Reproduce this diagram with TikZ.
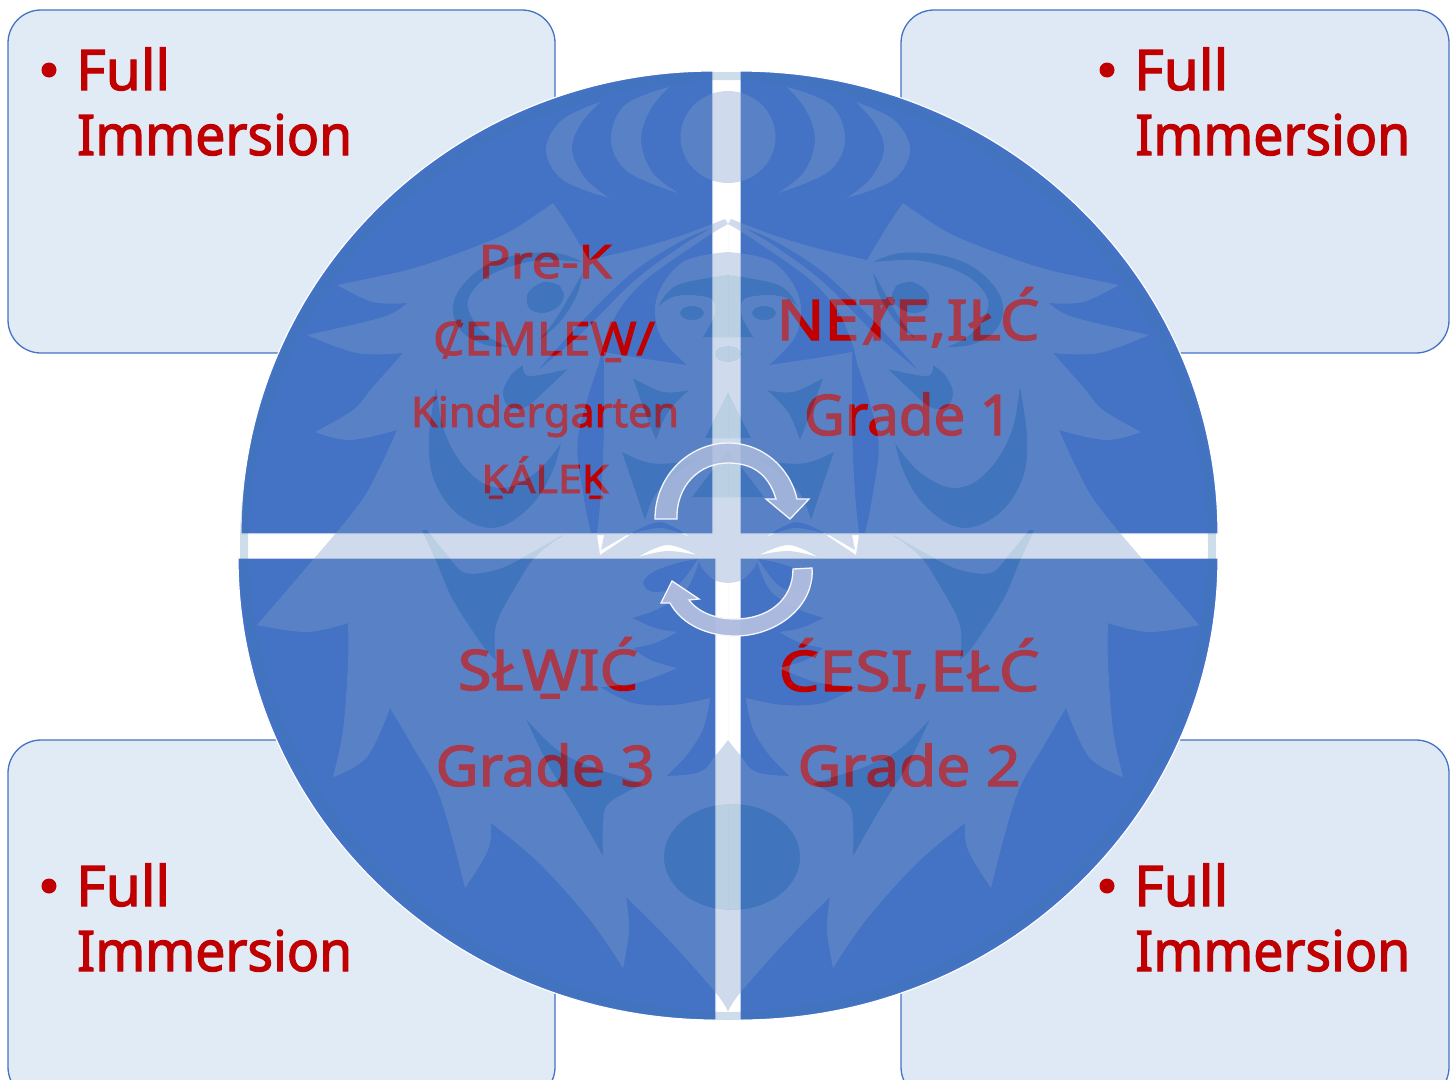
\documentclass[tikz,border=0pt]{standalone}
\usepackage{graphicx}
\usepackage{fontspec}
\setmainfont[RawFeature={embolden=2.2}]{Noto Sans}
\definecolor{qblue}{RGB}{68,114,196}
\definecolor{boxL}{RGB}{225,235,246}
\definecolor{boxR}{RGB}{222,233,245}
\definecolor{tred}{RGB}{192,0,0}
\definecolor{wmlight}{RGB}{127,160,204}
\definecolor{wmdark}{RGB}{58,120,173}
\definecolor{arrU}{RGB}{172,188,222}
\definecolor{arrD}{RGB}{176,188,223}
\tikzset{
  panel/.style={draw=qblue,line width=1.3pt,rounded corners=33pt},
  quad/.style={fill=qblue,draw=white,line width=1.2pt},
  lbl/.style={anchor=base west,inner sep=0pt,text=tred,font=\fontsize{56}{56}\selectfont},
  qtxt/.style={anchor=base,inner sep=0pt,text=tred},
  arrowshape/.style={draw=white!88!arrU,line width=1.3pt,line join=miter}
}
\newcommand\fitw[3]{\resizebox{#1pt}{\height}{\fontsize{#2}{#2}\selectfont #3}}
\newcommand\sm[1]{-- plot[smooth,tension=.6] coordinates {#1}}
% left half of the crest outline
\newcommand\SilL{(728,224) -- (725,219)
 \sm{(725,219)(683,235)(640,248)(589,260)}
 \sm{(589,260)(577,240)(566,222)(553,203)}
 \sm{(553,203)(507,233)(453,255)(407,270)(337,285)}
 \sm{(337,285)(373,302)(407,303)}
 \sm{(407,303)(383,317)(307,335)}
 \sm{(307,335)(357,353)(403,353)}
 \sm{(403,353)(373,387)(353,410)(315,432)}
 \sm{(315,432)(350,440)(397,430)}
 \sm{(397,430)(380,467)(357,507)(300,575)(257,625)}
 \sm{(257,625)(307,632)(348,623)}
 \sm{(348,623)(348,663)(343,730)(333,777)}
 \sm{(333,777)(367,757)(390,708)}
 \sm{(390,708)(413,747)(440,797)(465,888)}
 \sm{(465,888)(488,850)(491,823)}
 \sm{(491,823)(539,863)(590,920)(623,968)}
 \sm{(623,968)(629,930)(626,897)}
 \sm{(626,897)(669,940)(716,993)(728,1012)}
 -- cycle}
% plain parts of the crest (nothing laid over the base)
\newcommand\HolesL{
 (728,224) -- (714,232) \sm{(714,232)(649,277)(619,310)(604,343)(599,363)}
 \sm{(599,363)(578,437)(583,493)(591,533)}
 -- (597,533) \sm{(597,533)(601,493)(604,427)(604,352)}
 \sm{(604,352)(639,358)(687,365)}
 \sm{(687,365)(660,335)(657,297)(683,262)(728,252)} -- cycle
 (712,228) \sm{(712,228)(683,240)(633,272)(583,320)(537,371)}
 \sm{(537,371)(583,332)(633,282)(683,245)(712,228)} -- cycle
 (597,535) -- (600,555) -- (630,535) -- (627,535) -- (601,550) -- (604,535) -- cycle
 (628,535) \sm{(628,535)(660,522)(690,537)}
 \sm{(690,537)(660,528)(628,535)} -- cycle
 (638,557) \sm{(638,557)(667,545)(697,555)}
 \sm{(697,555)(667,551)(638,557)} -- cycle
 (698,559) \sm{(698,559)(677,563)(653,572)(643,583)(653,592)(677,586)(698,559)} -- cycle
 (728,583) \sm{(728,583)(714,580)(702,568)(699,561)}
 \sm{(699,561)(686,590)(660,608)(632,618)}
 \sm{(632,618)(655,628)(677,632)}
 \sm{(677,632)(655,643)(633,648)}
 \sm{(633,648)(650,660)(677,668)}
 \sm{(677,668)(640,682)(600,687)}
 \sm{(600,687)(633,703)(673,705)(710,698)}
 \sm{(710,698)(703,729)(686,756)(666,776)}
 \sm{(666,776)(700,772)(716,755)(728,740)} -- cycle
}
% darker parts of the crest
\newcommand\DarkL{
 (728,275) \sm{(728,275)(683,283)(667,293)(658,307)}
 \sm{(658,307)(670,298)(687,295)(710,298)(715,307)(713,320)}
 -- (703,337) -- (728,337) -- cycle
 (692,313) ellipse [x radius=12,y radius=7]
 (633,378) \sm{(633,378)(663,392)(689,390)}
 \sm{(689,390)(668,412)(656,440)}
 \sm{(656,440)(645,412)(633,378)} -- cycle
 (728,393) -- (705,438) -- (728,438) -- cycle
 (728,450) -- (692,497) -- (728,497) -- cycle
 (622,452) \sm{(622,452)(650,463)(683,462)(703,455)}
 \sm{(703,455)(677,472)(655,495)(645,520)}
 \sm{(645,520)(635,490)(622,452)} -- cycle
 (436,387) \sm{(436,387)(429,437)(433,477)(453,510)(483,527)(509,523)(536,500)(553,470)(561,443)}
 \sm{(561,443)(539,470)(509,487)(483,483)(459,460)(443,427)(436,387)} -- cycle
 (583,262) \sm{(583,262)(556,253)(516,255)(483,267)(459,290)(453,313)(463,333)(486,345)(509,347)}
 \sm{(509,347)(489,337)(473,320)(468,300)(483,280)(509,267)(543,260)(583,262)} -- cycle
 (559,285) \sm{(559,285)(543,282)(528,293)(529,308)(543,313)(558,307)(564,295)(559,285)} -- cycle
 (583,272) \sm{(583,272)(576,297)(559,323)(539,340)}
 \sm{(539,340)(553,323)(569,297)(583,272)} -- cycle
 (568,369) \sm{(568,369)(549,387)(526,407)(509,407)(503,392)(511,375)(523,365)}
 \sm{(523,365)(529,376)(568,369)} -- cycle
 (422,530) \sm{(422,530)(437,563)(453,600)(483,646)(496,660)}
 \sm{(496,660)(496,625)(516,586)(536,556)(563,535)}
 \sm{(563,535)(533,552)(499,569)(466,573)(447,555)(427,530)} -- cycle
 (526,719) \sm{(526,719)(556,749)(589,766)(626,778)(643,784)}
 \sm{(643,784)(609,803)(603,823)(603,856)}
 \sm{(603,856)(576,809)(549,766)(526,719)} -- cycle
}
% crown above the head
\newcommand\CrownL{
 (669,87) \sm{(669,87)(625,105)(611,140)(628,172)(678,193)}
 \sm{(678,193)(652,172)(641,140)(650,110)(669,87)} -- cycle
 (600,102) \sm{(600,102)(562,120)(546,150)(563,180)(609,198)}
 \sm{(609,198)(585,178)(572,150)(580,125)(600,102)} -- cycle
}
\newcommand\Mirror{[xshift=1456pt,xscale=-1]}
\begin{document}
\begin{tikzpicture}[x=1pt,y=-1pt]
\useasboundingbox (0,0) rectangle (1455,1079);
\fill[white] (0,0) rectangle (1455,1079);
% corner panels
\draw[panel,fill=boxL] (8,10) rectangle (555,353);
\draw[panel,fill=boxR] (901,10) rectangle (1449,353);
\draw[panel,fill=boxL] (8,740) rectangle (555,1100);
\draw[panel,fill=boxR] (901,740) rectangle (1449,1100);
\fill[tred] (49,70) circle [radius=7.5] (1107,70) circle [radius=7.5]
            (49,886) circle [radius=7.5] (1107,886) circle [radius=7.5];
\node[lbl] (tlA) at (76,90) {\fitw{94}{56}{Full}};
\node[lbl] (tlB) at (77,155) {\fitw{275}{56}{Immersion}};
\node[lbl] (trA) at (1134,90) {\fitw{94}{56}{Full}};
\node[lbl] (trB) at (1135,155) {\fitw{275}{56}{Immersion}};
\node[lbl] (blA) at (76,906) {\fitw{94}{56}{Full}};
\node[lbl] (blB) at (77,971) {\fitw{275}{56}{Immersion}};
\node[lbl] (brA) at (1134,906) {\fitw{94}{56}{Full}};
\node[lbl] (brB) at (1135,971) {\fitw{275}{56}{Immersion}};
% the four quadrants
\draw[quad] (713,534) -- (241,534) .. controls (241,278) and (452,71) .. (713,71) -- cycle;
\draw[quad] (740,534) -- (740,71) .. controls (1004,71) and (1218,278) .. (1218,534) -- cycle;
\draw[quad] (716,558) -- (716,1020) .. controls (452,1020) and (238,813) .. (238,558) -- cycle;
\draw[quad] (740,558) -- (1218,558) .. controls (1218,813) and (1004,1020) .. (740,1020) -- cycle;
% grade labels
\node[qtxt] (q1a) at (545,278) {\fitw{133}{46}{Pre-K}};
\node[qtxt] (q1b) at (544,355) {\fitw{222}{46}{ȻEMLEW̱/}};
\node[qtxt] (q1c) at (545,427) {\fitw{268}{42}{Kindergarten}};
\node[qtxt] (q1d) at (545,493) {\fitw{127}{39}{ḴÁLEḴ}};
\node[qtxt] (q2a) at (908,340) {\fitw{263}{56}{NEȾE,IŁĆ}};
\node[qtxt] (q2b) at (908,435) {\fitw{208}{56}{Grade 1}};
\node[qtxt] (q3a) at (548,690) {\fitw{180}{56}{SŁW̱IĆ}};
\node[qtxt] (q3b) at (545,786) {\fitw{219}{56}{Grade 3}};
\node[qtxt] (q4a) at (909,691) {\fitw{261}{56}{ĆESI,EŁĆ}};
\node[qtxt] (q4b) at (909,786) {\fitw{223}{56}{Grade 2}};
% crest laid over everything below it
\fill[wmlight,fill opacity=.37,even odd rule]
  \SilL \HolesL \DarkL \CrownL
  (728,137) ellipse [x radius=47.5,y radius=46]
  (728,354) ellipse [x radius=13,y radius=8]
  (732,857) ellipse [x radius=68,y radius=53]
  {\Mirror \SilL \HolesL \DarkL \CrownL};
\fill[wmdark,fill opacity=.34,even odd rule]
  \DarkL
  (728,354) ellipse [x radius=13,y radius=8]
  (732,857) ellipse [x radius=68,y radius=53]
  {\Mirror \DarkL};
\draw[wmdark,draw opacity=.25,line width=8pt] (728,546) ellipse [x radius=484,y radius=470];
% circular arrows
\draw[arrowshape,fill=arrU,fill opacity=.82]
  (655,519) .. controls (655,475) and (690,443) .. (728,443)
  .. controls (763,443) and (790,468) .. (797,499) -- (809,499) -- (790,519) -- (766,499) -- (776,499)
  .. controls (768,472) and (750,463) .. (728,463)
  .. controls (700,463) and (676,485) .. (677,519) -- cycle;
\draw[arrowshape,fill=arrD,fill opacity=.97]
  (793,569) .. controls (793,600) and (768,619) .. (735,619)
  .. controls (715,619) and (698,612) .. (689,600) -- (699,599) -- (672,581) -- (661,603) -- (670,603)
  .. controls (682,625) and (708,636) .. (735,636)
  .. controls (778,636) and (815,605) .. (812,568) -- cycle;
\end{tikzpicture}
\end{document}
